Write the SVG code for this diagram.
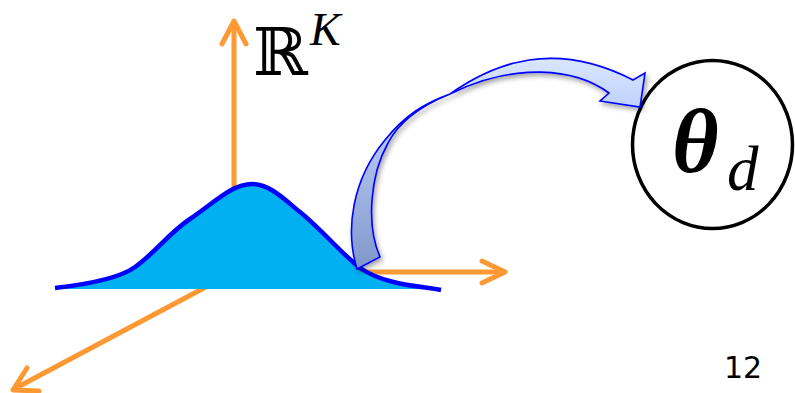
<svg xmlns="http://www.w3.org/2000/svg" width="795" height="393" viewBox="0 0 795 393">
<style>
.axis{stroke:#FF9933;stroke-width:5;fill:none;stroke-linecap:round;stroke-linejoin:round}
.math{font-family:"Liberation Serif","DejaVu Serif",serif;fill:#000}
</style>
<defs>
<linearGradient id="arrowGrad" x1="0" y1="55" x2="0" y2="270" gradientUnits="userSpaceOnUse">
<stop offset="0" stop-color="#dce8ff"/>
<stop offset="0.2" stop-color="#c4d6fb"/>
<stop offset="1" stop-color="#7f96c9"/>
</linearGradient>
<filter id="shadow" x="-20%" y="-20%" width="140%" height="140%">
<feDropShadow dx="2" dy="3" stdDeviation="2.5" flood-color="#000" flood-opacity="0.35"/>
</filter>
</defs>
<rect width="795" height="393" fill="#fff"/>
<g id="axes">
<line class="axis" x1="234" y1="272" x2="234" y2="22"/>
<polyline class="axis" points="222,44 234,21 246,44"/>
<line class="axis" x1="234" y1="272" x2="504" y2="272"/>
<polyline class="axis" points="482,261 505,272 482,283"/>
<line class="axis" x1="234" y1="272" x2="14" y2="389"/>
<polyline class="axis" points="27,368 13,390 39,391"/>
</g>
<g id="distribution">
<path d="M55,288 C90,284 120,278 135,267 C155,253 170,232 190,219 C215,202 232,184 252,184 C270,184 285,200 300,212 C320,228 340,252 360,268 C385,285 420,286 441,290 L441,289 L55,289 Z" fill="#00B0F0"/>
<path d="M55,288 C90,284 120,278 135,267 C155,253 170,232 190,219 C215,202 232,184 252,184 C270,184 285,200 300,212 C320,228 340,252 360,268 C385,285 420,286 441,290" fill="none" stroke="#0000FF" stroke-width="4.5"/>
</g>
<g id="label-rk">
<text class="math" x="253" y="75" font-size="66" style="font-family:'DejaVu Serif',serif">ℝ</text>
<text class="math" x="310" y="45" font-size="46" font-style="italic">K</text>
</g>
<g id="theta-d">
<ellipse cx="712.5" cy="144.5" rx="80" ry="84" fill="#fff" stroke="#000" stroke-width="3.5"/>
<text class="math" x="672" y="172" font-size="90" font-style="italic" font-weight="bold">θ</text>
<text class="math" x="727" y="190" font-size="63" font-style="italic">d</text>
</g>
<g id="connectors">
<path filter="url(#shadow)" d="M357,269 C345,230 352,180 385,140 C405,115 425,103 450,94 C495,62 555,40 633,80 L645,73 L640,107 L600,101 L609,93 C575,68 515,62 450,94 C425,104 400,120 388,143 C370,175 366,225 380,257 Z" fill="url(#arrowGrad)" stroke="#0000FF" stroke-width="1.6" stroke-linejoin="miter"/>
</g>
<text x="724" y="378" font-family="'DejaVu Sans',Verdana,sans-serif" font-size="30" fill="#000">12</text>
</svg>
